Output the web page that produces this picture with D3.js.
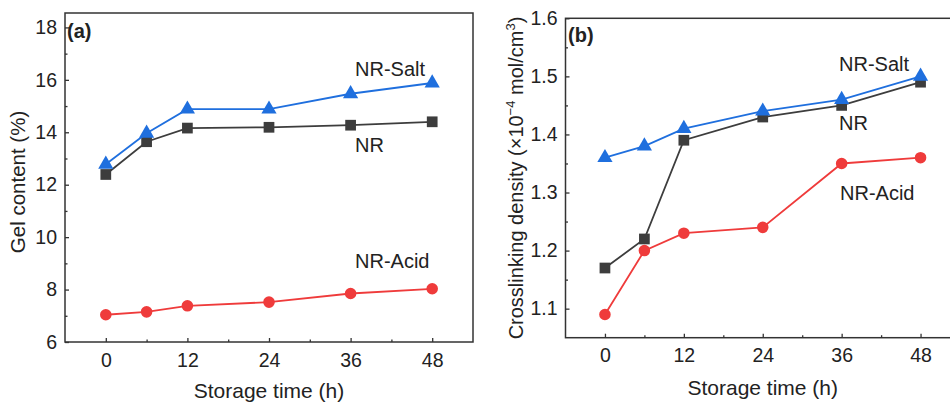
<!DOCTYPE html>
<html>
<head>
<meta charset="utf-8">
<script src="https://cdn.jsdelivr.net/npm/d3@7"></script>
<style>
  body { margin: 0; background: #fff; }
  text { font-family: Arial, "Liberation Sans", sans-serif; fill: #222; }
</style>
</head>
<body>
<div id="chart"></div>
<script>
const times = [0, 6, 12, 24, 36, 48];
const xTicks = [0, 12, 24, 36, 48];

// (a) gel content, %
const gelSalt = [12.78, 13.96, 14.88, 14.88, 15.47, 15.88];
const gelNR   = [12.39, 13.64, 14.16, 14.19, 14.27, 14.40];
const gelAcid = [7.04, 7.15, 7.38, 7.52, 7.85, 8.03];
const gelTicks = [6, 8, 10, 12, 14, 16, 18];

// (b) crosslinking density, x10^-4 mol/cm3
const denSalt = [1.36, 1.38, 1.41, 1.44, 1.46, 1.50];
const denNR   = [1.17, 1.22, 1.39, 1.43, 1.45, 1.49];
const denAcid = [1.09, 1.20, 1.23, 1.24, 1.35, 1.36];
const denTicks = [1.1, 1.2, 1.3, 1.4, 1.5, 1.6];

const colors = { salt: "#1f6fde", nr: "#3d3d3d", acid: "#ef3b3b" };

const svg = d3.select("#chart").append("svg")
  .attr("width", 950)
  .attr("height", 404);

function panel(opt) {
  const x = d3.scaleLinear().domain([-6, 54]).range(opt.xr);
  const y = d3.scaleLinear().domain(opt.yd).range(opt.yr);
  const g = svg.append("g");

  // frame
  g.append("rect")
    .attr("x", opt.xr[0]).attr("y", opt.yr[1])
    .attr("width", opt.xr[1] - opt.xr[0])
    .attr("height", opt.yr[0] - opt.yr[1])
    .attr("fill", "none").attr("stroke", "#333").attr("stroke-width", 1.5);

  // axes (ticks inward)
  g.append("g").attr("transform", `translate(0,${opt.yr[0]})`)
    .call(d3.axisBottom(x).tickValues(xTicks).tickSize(-4).tickPadding(opt.xpad));
  g.append("g").attr("transform", `translate(0,${opt.yr[0]})`)
    .call(d3.axisBottom(x).tickValues([6, 18, 30, 42]).tickSize(-2.5).tickFormat(""));
  g.append("g").attr("transform", `translate(${opt.xr[0]},0)`)
    .call(d3.axisLeft(y).tickValues(opt.yTicks).tickSize(-4).tickPadding(8).tickFormat(opt.fmt));
  g.append("g").attr("transform", `translate(${opt.xr[0]},0)`)
    .call(d3.axisLeft(y).tickValues(opt.minor).tickSize(-2.5).tickFormat(""));
  g.selectAll(".domain").remove();
  g.selectAll(".tick line").attr("stroke", "#333").attr("stroke-width", 1.3);
  g.selectAll(".tick text").attr("font-size", 19.5).attr("fill", "#222");

  const line = d3.line().x((d, i) => x(times[i])).y(d => y(d));

  opt.series.forEach(s => {
    g.append("path").datum(s.values)
      .attr("fill", "none").attr("stroke", s.color).attr("stroke-width", 1.8)
      .attr("d", line);
    const sym = d3.symbol().type(s.shape).size(s.size);
    g.selectAll(null).data(s.values).enter().append("path")
      .attr("transform", (d, i) => `translate(${x(times[i])},${y(d)})`)
      .attr("d", sym)
      .attr("fill", s.color);
  });

  opt.labels.forEach(l => {
    g.append("text").attr("x", l[1]).attr("y", l[2])
      .attr("font-size", 20).text(l[0]);
  });

  g.append("text").attr("x", opt.tag[1]).attr("y", opt.tag[2])
    .attr("font-size", 20).attr("font-weight", "bold").text(opt.tag[0]);

  g.append("text").attr("x", (x(0) + x(48)) / 2).attr("y", opt.xtY)
    .attr("text-anchor", "middle").attr("font-size", 21).text("Storage time (h)");

  return g;
}

const ga = panel({
  xr: [65, 473], yd: [6, 18.55], yr: [342, 13],
  yTicks: gelTicks, minor: [7, 9, 11, 13, 15, 17], fmt: d3.format("d"),
  xpad: 11, xtY: 398,
  series: [
    { values: gelNR, color: colors.nr, shape: d3.symbolSquare, size: 115 },
    { values: gelAcid, color: colors.acid, shape: d3.symbolCircle, size: 105 },
    { values: gelSalt, color: colors.salt, shape: d3.symbolTriangle, size: 100 }
  ],
  labels: [["NR-Salt", 355, 76], ["NR", 355, 152], ["NR-Acid", 355, 268]],
  tag: ["(a)", 67, 38]
});
ga.append("text").attr("transform", "translate(25,182) rotate(-90)")
  .attr("text-anchor", "middle").attr("font-size", 20.5).text("Gel content (%)");

const gb = panel({
  xr: [565.5, 960], yd: [1.05, 1.6], yr: [337.7, 18.3],
  yTicks: denTicks, minor: [1.15, 1.25, 1.35, 1.45, 1.55], fmt: d3.format(".1f"),
  xpad: 10.5, xtY: 395,
  series: [
    { values: denNR, color: colors.nr, shape: d3.symbolSquare, size: 115 },
    { values: denAcid, color: colors.acid, shape: d3.symbolCircle, size: 105 },
    { values: denSalt, color: colors.salt, shape: d3.symbolTriangle, size: 100 }
  ],
  labels: [["NR-Salt", 839, 71], ["NR", 839, 130], ["NR-Acid", 840, 200]],
  tag: ["(b)", 568, 42]
});
const yt = gb.append("text").attr("transform", "translate(523,178) rotate(-90)")
  .attr("text-anchor", "middle").attr("font-size", 20);
yt.append("tspan").text("Crosslinking density (×10");
yt.append("tspan").attr("font-size", 13).attr("dy", -8).text("−4");
yt.append("tspan").attr("dy", 8).text(" mol/cm");
yt.append("tspan").attr("font-size", 13).attr("dy", -8).text("3");
yt.append("tspan").attr("dy", 8).text(")");
</script>
</body>
</html>
